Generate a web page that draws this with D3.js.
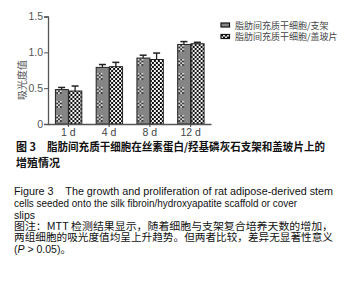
<!DOCTYPE html>
<html>
<head>
<meta charset="utf-8">
<script src="https://cdn.jsdelivr.net/npm/d3@7"></script>
<style>
  body { margin: 0; background: #fff; }
  svg { display: block; }
</style>
</head>
<body>
<svg id="chart" width="350" height="284"></svg>
<script>
// data
let days = ["1 d", "4 d", "8 d", "12 d"];
let seriesNames = ["脂肪间充质干细胞/支架", "脂肪间充质干细胞/盖玻片"];
let scaffoldVals = [0.48, 0.79, 0.92, 1.11];
let scaffoldErr = [0.03, 0.04, 0.04, 0.04];
let coverVals = [0.46, 0.80, 0.90, 1.12];
let coverErr = [0.07, 0.06, 0.09, 0.02];
let yTicks = [0, 0.5, 1.0, 1.5];

let svg = d3.select('#chart');
let x0 = 48, x1 = 211, yBottom = 124, yTop = 16.5;

let cjk = "'Noto Sans CJK SC', sans-serif";
let latin = "'Liberation Sans', Arial, sans-serif";

// patterns
let defs = svg.append("defs");
let pGray = defs.append("pattern").attr("id", "pGray")
    .attr("patternUnits", "userSpaceOnUse").attr("width", 40).attr("height", 14);
pGray.append("rect").attr("width", 40).attr("height", 14).attr("fill", "#858585");
for (let i = 0; i < 3; i++) {
    for (let j = 0; j < 4; j++) {
        pGray.append("rect").attr("x", 1.5 + i * 1.7).attr("y", 3 + j * 1.7)
            .attr("width", 1.7).attr("height", 1.7)
            .attr("fill", (i + j) % 2 ? "#222" : "#eee");
    }
}
let pCheck = defs.append("pattern").attr("id", "pCheck")
    .attr("patternUnits", "userSpaceOnUse").attr("width", 4).attr("height", 4);
pCheck.append("rect").attr("width", 4).attr("height", 4).attr("fill", "#f4f4f4");
pCheck.append("rect").attr("width", 2).attr("height", 2).attr("fill", "#111");
pCheck.append("rect").attr("x", 2).attr("y", 2).attr("width", 2).attr("height", 2).attr("fill", "#111");

let x = d3.scaleBand().domain(days).range([x0, x1]).paddingInner(0.34).paddingOuter(0.17);
let xs = d3.scaleBand().domain([0, 1]).range([0, x.bandwidth()]);
let y = d3.scaleLinear().domain([0, 1.5]).range([yBottom, yTop]);

let rows = days.map((d, i) => ({day: d, vals: [
    {s: 0, v: scaffoldVals[i], e: scaffoldErr[i]},
    {s: 1, v: coverVals[i], e: coverErr[i]}
]}));

let groups = svg.selectAll("g.day").data(rows).enter().append("g")
    .attr("class", "day")
    .attr("transform", d => "translate(" + x(d.day) + ",0)");

let bars = groups.selectAll("g.bar").data(d => d.vals).enter().append("g")
    .attr("class", "bar")
    .attr("transform", d => "translate(" + xs(d.s) + ",0)");

bars.append("rect")
    .attr("x", 0.5)
    .attr("y", d => y(d.v))
    .attr("width", xs.bandwidth() - 0.5)
    .attr("height", d => yBottom - y(d.v))
    .attr("fill", d => d.s ? "url(#pCheck)" : "url(#pGray)")
    .attr("stroke", "#222").attr("stroke-width", 1);

// error bars
bars.append("line")
    .attr("x1", xs.bandwidth() / 2).attr("x2", xs.bandwidth() / 2)
    .attr("y1", d => y(d.v)).attr("y2", d => y(d.v + d.e))
    .attr("stroke", "#222").attr("stroke-width", 1.3);
bars.append("line")
    .attr("x1", xs.bandwidth() / 2 - 3.5).attr("x2", xs.bandwidth() / 2 + 3.5)
    .attr("y1", d => y(d.v + d.e)).attr("y2", d => y(d.v + d.e))
    .attr("stroke", "#222").attr("stroke-width", 1.5);

// axes
let yAxis = d3.axisLeft(y).tickValues(yTicks).tickSize(4)
    .tickFormat(d => d === 0 ? "0" : d3.format(".1f")(d));
let gy = svg.append("g").attr("transform", "translate(" + x0 + ",0)").call(yAxis);
gy.select(".domain").attr("stroke", "#555").attr("stroke-width", 1.3);
gy.selectAll(".tick line").attr("stroke", "#555");
gy.selectAll(".tick text").attr("font-family", latin).attr("font-size", 10.5)
    .attr("fill", "#555").attr("x", -5);

let xAxis = d3.axisBottom(x).tickSize(3).tickSizeOuter(0);
let gx = svg.append("g").attr("transform", "translate(0," + yBottom + ")").call(xAxis);
gx.select(".domain").attr("stroke", "#555").attr("stroke-width", 1.3);
gx.selectAll(".tick line").attr("stroke", "#444");
gx.selectAll(".tick text").attr("font-family", latin).attr("font-size", 10.5)
    .attr("fill", "#444").attr("y", 5);

svg.append("text")
    .attr("transform", "translate(26,80) rotate(-90)")
    .attr("text-anchor", "middle")
    .attr("font-family", cjk).attr("font-size", 10)
    .attr("fill", "#555")
    .text("吸光度值");

// legend
let legend = svg.selectAll("g.leg").data(seriesNames).enter().append("g")
    .attr("class", "leg")
    .attr("transform", (d, i) => "translate(221," + (23 + i * 11.5) + ")");
legend.append("rect")
    .attr("width", 8.5).attr("height", 4)
    .attr("fill", (d, i) => i ? "url(#pCheck)" : "#888")
    .attr("stroke", "#111").attr("stroke-width", 1.2);
legend.append("text")
    .attr("x", 14).attr("y", 5.5)
    .attr("font-family", cjk).attr("font-size", 9)
    .attr("fill", "#444")
    .text(d => d);

// caption
let cap = svg.append("g");
cap.append("text").attr("x", 16).attr("y", 151)
    .attr("font-family", cjk).attr("font-size", 11).attr("font-weight", "bold").attr("fill", "#111")
    .text("图 3");
cap.append("text").attr("x", 47).attr("y", 151)
    .attr("font-family", cjk).attr("font-size", 11).attr("font-weight", "bold").attr("fill", "#111")
    .attr("textLength", 278).attr("lengthAdjust", "spacingAndGlyphs")
    .text("脂肪间充质干细胞在丝素蛋白/羟基磷灰石支架和盖玻片上的");
cap.append("text").attr("x", 16).attr("y", 167)
    .attr("font-family", cjk).attr("font-size", 11).attr("font-weight", "bold").attr("fill", "#111")
    .text("增殖情况");

let eng = [
    {t: "Figure 3    The growth and proliferation of rat adipose-derived stem", y: 194.5, w: 319},
    {t: "cells seeded onto the silk fibroin/hydroxyapatite scaffold or cover", y: 207, w: 283},
    {t: "slips", y: 219, w: null}
];
eng.forEach(l => {
    let t = cap.append("text").attr("x", 14).attr("y", l.y)
        .attr("font-family", latin).attr("font-size", 10.5).attr("fill", "#111")
        .attr("xml:space", "preserve")
        .text(l.t);
    if (l.w) t.attr("textLength", l.w).attr("lengthAdjust", "spacingAndGlyphs");
});

let note = [
    {t: "图注：MTT 检测结果显示，随着细胞与支架复合培养天数的增加，", y: 229.5, w: 319},
    {t: "两组细胞的吸光度值均呈上升趋势。但两者比较，差异无显著性意义", y: 241, w: 319}
];
note.forEach(l => {
    cap.append("text").attr("x", 14).attr("y", l.y)
        .attr("font-family", cjk).attr("font-size", 10.5).attr("fill", "#111")
        .attr("textLength", l.w).attr("lengthAdjust", "spacingAndGlyphs")
        .text(l.t);
});
let last = cap.append("text").attr("x", 14).attr("y", 253)
    .attr("font-family", latin).attr("font-size", 10.5).attr("fill", "#111");
last.append("tspan").text("(");
last.append("tspan").attr("font-style", "italic").text("P");
last.append("tspan").text(" > 0.05)");
last.append("tspan").attr("font-family", cjk).text("。");
</script>
</body>
</html>
